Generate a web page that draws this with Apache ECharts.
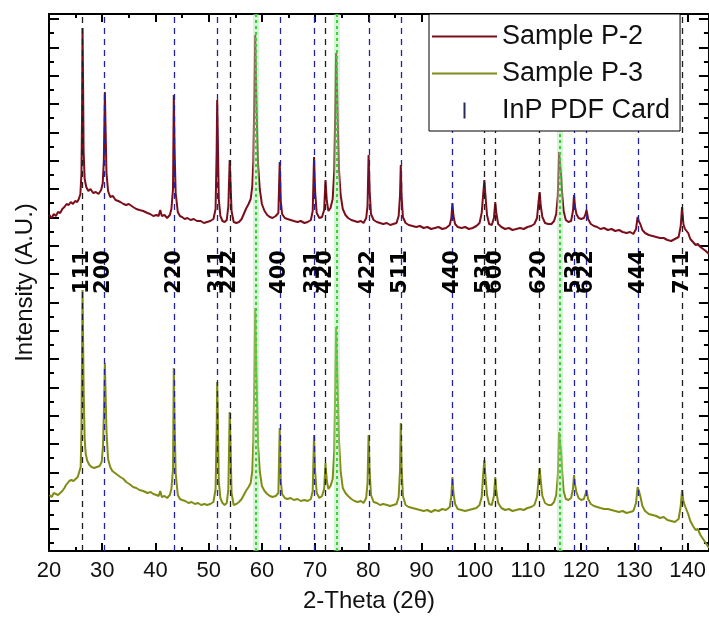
<!DOCTYPE html>
<html>
<head>
<meta charset="utf-8">
<script src="https://cdn.jsdelivr.net/npm/echarts@6/dist/echarts.min.js"></script>
<style>
  html, body { margin: 0; padding: 0; background: #fff; }
  #chart { width: 709px; height: 631px; }
</style>
</head>
<body>
<div id="chart"></div>
<script>
// ---------------- data ----------------
// [2θ (deg), intensity (A.U.)]
const sampleP2 = [[20.1,336],[20.5,333],[20.9,337],[21.3,335],[21.7,339],[22.1,338],[22.5,342],[22.9,344],[23.3,347],[23.7,346],[24.1,349],[24.5,347],[24.9,350],[25.3,349],[25.6,352],[25.9,357],[26.1,378],[26.2,430],[26.3,523],[26.4,470],[26.5,400],[26.7,372],[27.0,364],[27.4,360],[27.8,362],[28.3,358],[28.8,359],[29.3,357],[29.8,361],[30.1,368],[30.3,390],[30.5,459],[30.6,430],[30.8,378],[31.1,360],[31.5,354],[32.0,355],[32.5,351],[33.0,350],[33.4,349],[34.0,347],[34.5,346],[35.0,347],[35.8,344],[36.4,342],[37.0,341],[37.7,340],[38.5,338],[39.0,337],[39.6,335],[40.2,336],[40.6,335],[40.9,341],[41.2,335],[41.7,336],[42.2,333],[42.7,336],[43.0,342],[43.3,362],[43.45,456],[43.6,400],[43.8,358],[44.2,339],[44.6,335],[45.0,334],[45.5,332],[46.0,333],[46.6,331],[47.2,332],[47.8,330],[48.5,330],[49.1,328],[49.7,329],[50.3,330],[50.9,332],[51.3,342],[51.5,400],[51.6,451],[51.7,420],[51.9,352],[52.2,335],[52.6,330],[53.0,329],[53.4,331],[53.7,345],[53.95,391],[54.1,370],[54.3,340],[54.7,329],[55.2,328],[55.7,329],[56.2,332],[56.6,337],[57.0,342],[57.5,347],[57.9,352],[58.2,365],[58.4,390],[58.6,460],[58.75,516],[58.9,470],[59.1,420],[59.3,385],[59.6,362],[60.0,347],[60.5,340],[61.0,336],[61.5,334],[62.0,333],[62.6,335],[63.1,338],[63.35,389],[63.55,350],[63.8,337],[64.3,333],[64.8,332],[65.4,331],[66.0,330],[66.7,329],[67.3,330],[68.0,328],[68.6,329],[69.2,331],[69.55,340],[69.8,394],[70.0,360],[70.3,338],[70.8,333],[71.3,334],[71.7,341],[71.95,371],[72.2,350],[72.5,340],[72.9,343],[73.3,352],[73.6,380],[73.8,445],[73.95,498],[74.1,470],[74.3,420],[74.5,380],[74.8,356],[75.2,342],[75.7,336],[76.2,333],[76.8,331],[77.4,330],[78.0,329],[78.6,330],[79.1,328],[79.6,333],[79.85,345],[80.05,396],[80.25,360],[80.5,337],[81.0,331],[81.6,329],[82.2,328],[82.8,327],[83.5,328],[84.1,326],[84.7,327],[85.3,328],[85.7,335],[85.95,355],[86.1,386],[86.25,355],[86.5,334],[87.0,328],[87.6,326],[88.3,325],[89.0,324],[89.7,325],[90.4,323],[91.1,324],[91.8,322],[92.5,323],[93.2,324],[93.9,322],[94.6,323],[95.3,326],[95.6,333],[95.8,348],[96.0,335],[96.3,327],[96.8,324],[97.5,323],[98.2,324],[98.9,322],[99.6,323],[100.3,325],[100.9,328],[101.3,338],[101.6,358],[101.8,371],[102.0,356],[102.3,336],[102.7,327],[103.2,326],[103.6,333],[103.85,349],[104.05,338],[104.4,327],[105.0,324],[105.7,322],[106.4,323],[107.1,321],[107.8,322],[108.5,323],[109.2,322],[109.9,324],[110.6,325],[111.2,327],[111.7,333],[112.0,350],[112.2,359],[112.4,345],[112.7,334],[113.2,328],[113.8,327],[114.4,327],[114.9,330],[115.3,337],[115.6,355],[115.85,399],[116.05,385],[116.25,374],[116.45,355],[116.7,340],[117.1,331],[117.6,329],[118.1,330],[118.45,340],[118.65,356],[118.85,344],[119.1,337],[119.5,333],[120.0,332],[120.5,333],[120.8,337],[121.0,341],[121.3,332],[121.8,327],[122.4,325],[123.0,324],[123.6,322],[124.3,323],[125.0,321],[125.7,322],[126.4,320],[127.1,321],[127.8,319],[128.5,318],[129.2,319],[129.8,317],[130.3,322],[130.6,334],[130.8,330],[131.1,327],[131.5,321],[132.0,318],[132.7,316],[133.4,315],[134.1,314],[134.8,313],[135.5,313],[136.2,311],[136.9,310],[137.6,312],[138.3,314],[138.7,325],[138.95,344],[139.2,327],[139.5,322],[139.8,324],[140.1,318],[140.5,312],[141.0,309],[141.5,306],[141.9,307],[142.4,304],[142.9,302],[143.4,300],[144.0,297]];

const sampleP3 = [[20.1,56],[20.5,54],[20.9,58],[21.3,57],[21.7,56],[22.1,58],[22.5,60],[22.9,63],[23.2,66],[23.5,65],[23.8,70],[24.2,71],[24.6,70],[25.0,72],[25.4,74],[25.7,76],[25.95,84],[26.1,120],[26.2,190],[26.3,261],[26.4,215],[26.5,165],[26.7,112],[26.9,97],[27.2,90],[27.6,86],[28.0,84],[28.5,83],[29.0,84],[29.5,85],[29.9,89],[30.15,105],[30.3,135],[30.5,188],[30.6,165],[30.8,120],[31.1,92],[31.5,84],[31.9,80],[32.4,78],[32.9,76],[33.4,74],[34.0,72],[34.5,69],[35.1,67],[35.8,64],[36.4,63],[37.0,61],[37.7,60],[38.5,58],[39.1,59],[39.6,57],[40.2,56],[40.6,55],[40.9,60],[41.2,54],[41.7,55],[42.2,53],[42.7,56],[43.0,62],[43.3,82],[43.45,183],[43.6,130],[43.8,78],[44.2,56],[44.6,52],[45.0,51],[45.6,50],[46.2,48],[46.8,49],[47.4,47],[48.0,48],[48.6,46],[49.2,47],[49.7,46],[50.3,47],[50.9,49],[51.3,62],[51.5,120],[51.6,169],[51.7,140],[51.9,70],[52.2,53],[52.6,48],[53.0,46],[53.4,48],[53.7,62],[53.95,139],[54.1,110],[54.3,58],[54.7,46],[55.2,47],[55.7,49],[56.2,52],[56.6,56],[57.0,60],[57.5,64],[57.9,68],[58.2,80],[58.4,110],[58.6,180],[58.75,243],[58.9,200],[59.1,150],[59.3,105],[59.6,80],[60.0,65],[60.5,60],[61.0,57],[61.5,55],[62.0,54],[62.6,55],[63.1,58],[63.35,123],[63.55,70],[63.8,57],[64.3,53],[64.8,52],[65.4,53],[66.0,51],[66.7,52],[67.3,50],[68.0,51],[68.6,50],[69.2,52],[69.55,60],[69.8,116],[70.0,80],[70.3,58],[70.8,53],[71.3,55],[71.7,62],[71.95,88],[72.2,70],[72.5,62],[72.9,65],[73.3,72],[73.6,100],[73.8,170],[73.95,224],[74.1,195],[74.3,150],[74.5,110],[74.8,80],[75.2,63],[75.7,58],[76.2,55],[76.8,52],[77.4,50],[78.0,49],[78.6,50],[79.1,48],[79.6,53],[79.85,68],[80.05,116],[80.25,80],[80.5,56],[81.0,49],[81.6,48],[82.2,46],[82.8,47],[83.5,46],[84.1,45],[84.7,46],[85.3,47],[85.7,54],[85.95,80],[86.1,128],[86.25,85],[86.5,55],[87.0,46],[87.6,44],[88.3,43],[89.0,42],[89.7,41],[90.4,40],[91.1,41],[91.8,39],[92.5,41],[93.2,40],[93.9,42],[94.6,41],[95.3,44],[95.6,55],[95.8,74],[96.0,58],[96.3,47],[96.8,42],[97.5,41],[98.2,40],[98.9,41],[99.6,42],[100.3,43],[100.9,46],[101.3,54],[101.6,78],[101.8,91],[102.0,75],[102.3,56],[102.7,47],[103.2,46],[103.6,55],[103.85,74],[104.05,60],[104.4,48],[105.0,43],[105.7,41],[106.4,42],[107.1,40],[107.8,41],[108.5,42],[109.2,41],[109.9,43],[110.6,44],[111.2,46],[111.7,54],[112.0,72],[112.2,83],[112.4,70],[112.7,55],[113.2,48],[113.8,46],[114.4,46],[114.9,49],[115.3,56],[115.6,75],[115.85,119],[116.05,108],[116.25,98],[116.45,78],[116.7,60],[117.1,52],[117.6,51],[118.1,53],[118.45,62],[118.65,76],[118.85,66],[119.1,59],[119.5,53],[120.0,51],[120.5,52],[120.8,57],[121.0,61],[121.3,52],[121.8,47],[122.4,45],[123.0,44],[123.6,43],[124.3,42],[125.0,42],[125.7,41],[126.4,40],[127.1,39],[127.8,40],[128.5,38],[129.2,39],[129.8,40],[130.3,48],[130.6,64],[130.85,60],[131.1,55],[131.5,45],[132.0,40],[132.7,37],[133.4,36],[134.1,35],[134.8,33],[135.5,34],[136.2,31],[136.9,30],[137.6,29],[138.3,32],[138.7,45],[138.95,61],[139.2,50],[139.5,45],[139.8,46],[140.1,37],[140.5,30],[141.0,25],[141.5,21],[141.9,22],[142.4,16],[142.9,12],[143.4,8],[144.0,3]];

// InP PDF card reflections
const pdfPositions = [26.3, 30.3, 43.5, 51.6, 54.0, 63.4, 69.8, 72.0, 80.1, 86.1, 95.8, 101.8, 103.9, 112.2, 118.7, 121.0, 130.7, 139.0];
const pdfHkl = ['111','200','220','311','222','400','331','420','422','511','440','531','600','620','533','622','444','711'];
const pdfLineTone = ['k','b','b','b','k','b','b','k','b','b','b','k','k','k','b','b','b','k'];
// extra (non-InP) reflections marked with green dotted lines
const extraPeaks = [58.8, 74.1, 115.9];

// axis ticks
const xTickLabels = [20, 30, 40, 50, 60, 70, 80, 90, 100, 110, 120, 130, 140];
const xMinorTicks = [25, 35, 45, 55, 65, 75, 85, 95, 105, 115, 125, 135];
const yMajorTicks = [22, 50.3, 78.7, 107, 135.3, 163.7, 192, 220.3, 248.7, 277, 305.3, 333.7, 362, 390.3, 418.7, 447, 475.3, 503.7, 532];
const yMinorTicks = [7.8, 36.2, 64.5, 92.8, 121.2, 149.5, 177.8, 206.2, 234.5, 262.8, 291.2, 319.5, 347.8, 376.2, 404.5, 432.8, 461.2, 489.5, 517.8];

// ---------------- layout / style ----------------
const X_MIN = 20, X_MAX = 144, Y_MIN = 0, Y_MAX = 537;
const LABEL_LEVEL = 279;
const COLOR_P2 = '#7a0e1a';
const COLOR_P3 = '#808c14';
const COLOR_BLUE = '#23239e';
const COLOR_BLACK = '#1e1e1e';
const FONT = 'Liberation Sans, Arial, sans-serif';

const chart = echarts.init(document.getElementById('chart'), null, { renderer: 'canvas' });

function xAxisDef(position, ticks, len, showLine, showLabel) {
  return {
    type: 'value', position, min: X_MIN, max: X_MAX, gridIndex: 0,
    axisLine: { show: showLine, onZero: false, lineStyle: { color: '#000', width: 2 } },
    axisTick: { show: true, inside: true, length: len, customValues: ticks, lineStyle: { color: '#000', width: 2 } },
    axisLabel: showLabel ? { show: true, customValues: xTickLabels, fontSize: 22, color: '#111', fontFamily: FONT, margin: 9 } : { show: false },
    splitLine: { show: false }
  };
}
function yAxisDef(position, ticks, len, showLine) {
  return {
    type: 'value', position, min: Y_MIN, max: Y_MAX, gridIndex: 0,
    axisLine: { show: showLine, onZero: false, lineStyle: { color: '#000', width: 2 } },
    axisTick: { show: true, inside: true, length: len, customValues: ticks, lineStyle: { color: '#000', width: 2 } },
    axisLabel: { show: false },
    splitLine: { show: false }
  };
}

const xMain = xAxisDef('bottom', xTickLabels, 8, true, true);
xMain.name = '2-Theta (2θ)';
xMain.nameLocation = 'middle';
xMain.nameGap = 38;
xMain.nameTextStyle = { fontSize: 24, color: '#111', fontFamily: FONT, padding: [0, 20, 0, 0] };

const yMain = yAxisDef('left', yMajorTicks, 10, true);
yMain.name = 'Intensity (A.U.)';
yMain.nameLocation = 'middle';
yMain.nameGap = 12;
yMain.nameTextStyle = { fontSize: 24, color: '#111', fontFamily: FONT };

const pdfMarks = pdfPositions.map((p, i) => ({
  xAxis: p,
  lineStyle: { color: pdfLineTone[i] === 'b' ? COLOR_BLUE : COLOR_BLACK, type: [6, 5], width: 1.3 }
}));
const extraMarks = extraPeaks.map(p => ({ xAxis: p }));
const extraHalo = extraPeaks.map(p => ({ xAxis: p }));
const labelPoints = pdfPositions.map((p, i) => ({ value: [p, LABEL_LEVEL], name: pdfHkl[i] }));

const option = {
  animation: false,
  backgroundColor: '#fff',
  grid: { left: 49, right: -1, top: 14, bottom: 80, containLabel: false },
  xAxis: [
    xMain,
    xAxisDef('bottom', xMinorTicks, 4, false, false),
    xAxisDef('top', xTickLabels, 8, true, false),
    xAxisDef('top', xMinorTicks, 4, false, false)
  ],
  yAxis: [
    yMain,
    yAxisDef('left', yMinorTicks, 5, false),
    yAxisDef('right', yMajorTicks, 10, true),
    yAxisDef('right', yMinorTicks, 5, false)
  ],
  legend: {
    orient: 'vertical',
    left: 429, top: 14, z: 20, zlevel: 1,
    padding: [9, 10, 7, 3],
    itemWidth: 65, itemHeight: 16, itemGap: 10,
    backgroundColor: '#fff',
    borderColor: '#000', borderWidth: 1,
    textStyle: { fontSize: 27, lineHeight: 24, color: '#111', fontFamily: FONT },
    data: [
      { name: 'Sample P-2', icon: 'path://M0,0H65V2H0Z' },
      { name: 'Sample P-3', icon: 'path://M0,0H65V2H0Z' },
      { name: 'InP PDF Card', icon: 'path://M0,0H2V16H0Z' }
    ]
  },
  series: [
    {
      name: 'halo', type: 'line', data: [], z: 1, silent: true,
      markLine: { symbol: ['none', 'none'], silent: true, label: { show: false },
        lineStyle: { color: 'rgba(160,235,160,0.45)', type: 'solid', width: 6 }, data: extraHalo }
    },
    {
      name: 'extra', type: 'line', data: [], z: 1, silent: true,
      markLine: { symbol: ['none', 'none'], silent: true, label: { show: false },
        lineStyle: { color: '#3ccf3c', type: [3, 3], width: 2 }, data: extraMarks }
    },
    {
      name: 'InP PDF Card', type: 'line', data: [], z: 2,
      itemStyle: { color: '#2a2a5a' }, lineStyle: { color: '#2a2a5a' },
      markLine: { symbol: ['none', 'none'], silent: true, label: { show: false }, data: pdfMarks }
    },
    {
      name: 'Sample P-2', type: 'line', data: sampleP2, showSymbol: false, symbol: 'none', z: 3,
      itemStyle: { color: COLOR_P2 }, lineStyle: { color: COLOR_P2, width: 2 }
    },
    {
      name: 'Sample P-3', type: 'line', data: sampleP3, showSymbol: false, symbol: 'none', z: 3,
      itemStyle: { color: COLOR_P3 }, lineStyle: { color: COLOR_P3, width: 2 }
    },
    {
      name: 'hkl', type: 'scatter', data: labelPoints, symbolSize: 2, z: 5, silent: true,
      itemStyle: { color: 'rgba(0,0,0,0)' },
      labelLayout: { hideOverlap: false },
      label: {
        show: true, position: 'inside', rotate: 90, formatter: '{b}',
        fontSize: 21, fontWeight: 'bold', color: '#000', opacity: 1,
        textBorderWidth: 0, textBorderColor: 'transparent',
        fontFamily: 'DejaVu Sans, sans-serif',
        align: 'center', verticalAlign: 'middle'
      }
    }
  ]
};
chart.setOption(option);
</script>
</body>
</html>
